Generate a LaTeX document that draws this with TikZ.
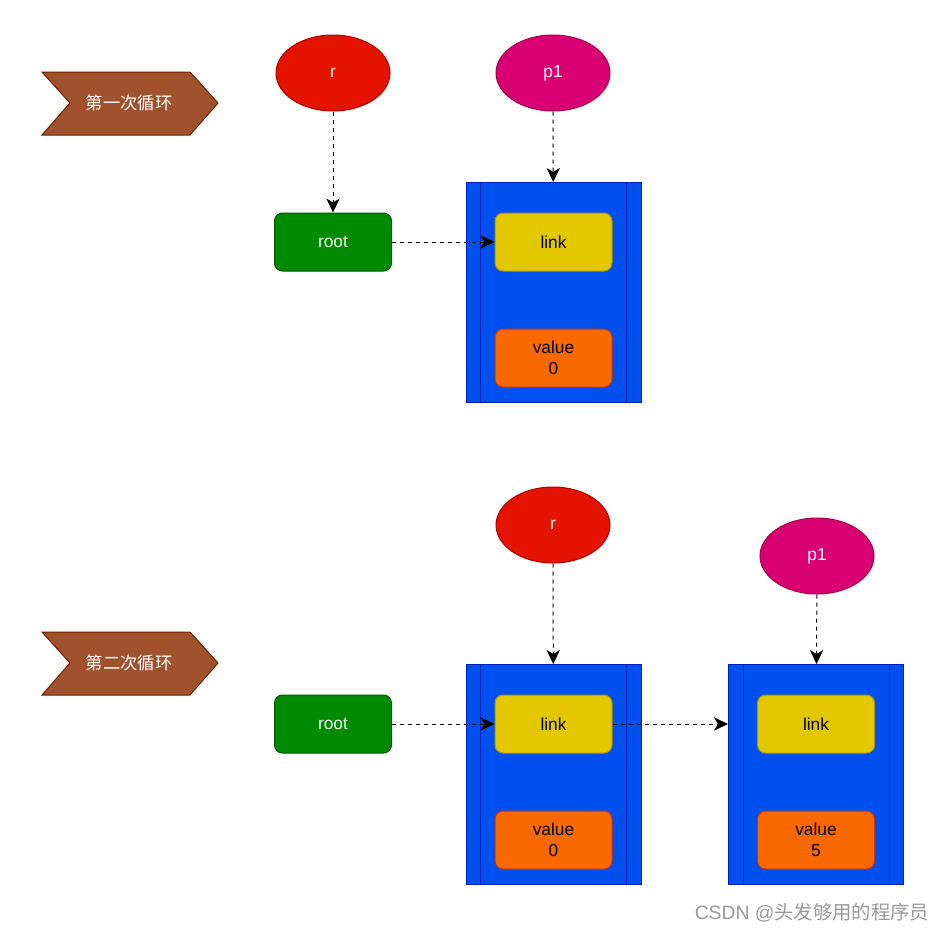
\documentclass[tikz,border=0pt]{standalone}
\usepackage{fontspec}
\setmainfont{Liberation Sans}
\newfontfamily\cjk{Noto Sans CJK SC}
\usetikzlibrary{shapes.geometric, arrows.meta, positioning}

\definecolor{chevfill}{HTML}{A0522D}
\definecolor{chevline}{HTML}{6D1F00}
\definecolor{rfill}{HTML}{E51400}
\definecolor{rline}{HTML}{B20000}
\definecolor{pfill}{HTML}{D80073}
\definecolor{pline}{HTML}{A50040}
\definecolor{rootfill}{HTML}{008A00}
\definecolor{rootline}{HTML}{005700}
\definecolor{cellfill}{HTML}{0050EF}
\definecolor{cellline}{HTML}{001DBC}
\definecolor{linkfill}{HTML}{E3C800}
\definecolor{linkline}{HTML}{B09500}
\definecolor{valfill}{HTML}{FA6800}
\definecolor{valline}{HTML}{C73500}

\tikzset{
  every node/.style={font=\fontsize{13}{15.75}\selectfont, align=center},
  chev/.style={fill=chevfill, draw=chevline, line width=0.75pt},
  ptr/.style={ellipse, minimum width=85.5pt, minimum height=57pt, inner sep=0pt, line width=0.75pt, text=white},
  box/.style={rectangle, rounded corners=6pt, minimum width=87.75pt, minimum height=43.5pt, inner sep=0pt, line width=0.75pt},
  cellbox/.style={rectangle, fill=cellfill, draw=cellline, minimum width=131.25pt, minimum height=165pt, inner sep=0pt, line width=0.75pt},
  dash arrow/.style={dashed, line width=0.75pt, -{Stealth[length=10.5pt,width=10pt,inset=3pt]}}
}

% one list cell: name, centre x, top y, value
\newcommand{\listcell}[4]{
  \node[cellbox, anchor=north] (#1) at (#2,#3) {};
  \draw[cellline, line width=0.75pt] ([xshift=11.25pt]#1.north west) -- ([xshift=11.25pt]#1.south west);
  \draw[cellline, line width=0.75pt] ([xshift=-11.25pt]#1.north east) -- ([xshift=-11.25pt]#1.south east);
  \node[box, fill=linkfill, draw=linkline] (#1link) at (#2,#3+60) {link};
  \node[box, fill=valfill, draw=valline] (#1val) at (#2,#3+176) {value\\#4};
}

\begin{document}
\begin{tikzpicture}[x=0.75pt, y=-0.75pt]
\useasboundingbox (0,0) rectangle (944,932);

% first loop
\draw[chev] (42,72) -- (190,72) -- (218,103) -- (190,135) -- (42,135) -- (70,103) -- cycle;
\node[text=white] (loopone) at (129,103) {\cjk 第一次循环};

\node[ptr, fill=rfill, draw=rline] (rone) at (333,73) {r};
\node[ptr, fill=pfill, draw=pline] (pone) at (553,73) {p1};
\node[box, fill=rootfill, draw=rootline, text=white] (rootone) at (333,242) {root};
\listcell{cellA}{553.5}{182}{0}

\draw[dash arrow] (rone) -- (rootone);
\draw[dash arrow] (pone) -- (cellA);
\draw[dash arrow] (rootone) -- (cellAlink);

% second loop
\draw[chev] (42,632) -- (190,632) -- (218,663) -- (190,695) -- (42,695) -- (70,663) -- cycle;
\node[text=white] (looptwo) at (129,663) {\cjk 第二次循环};

\node[ptr, fill=rfill, draw=rline] (rtwo) at (553,525) {r};
\node[ptr, fill=pfill, draw=pline] (ptwo) at (817,556) {p1};
\node[box, fill=rootfill, draw=rootline, text=white] (roottwo) at (333,724) {root};
\listcell{cellB}{553.5}{664}{0}
\listcell{cellC}{816}{664}{5}

\draw[dash arrow] (rtwo) -- (cellB);
\draw[dash arrow] (ptwo) -- (cellC);
\draw[dash arrow] (roottwo) -- (cellBlink);
\draw[dash arrow] (cellBlink) -- (cellBlink -| cellC.west);

\node[text=black!40, font=\fontsize{14.5}{17}\selectfont] (mark) at (812,913) {CSDN @\cjk 头发够用的程序员};
\end{tikzpicture}
\end{document}
